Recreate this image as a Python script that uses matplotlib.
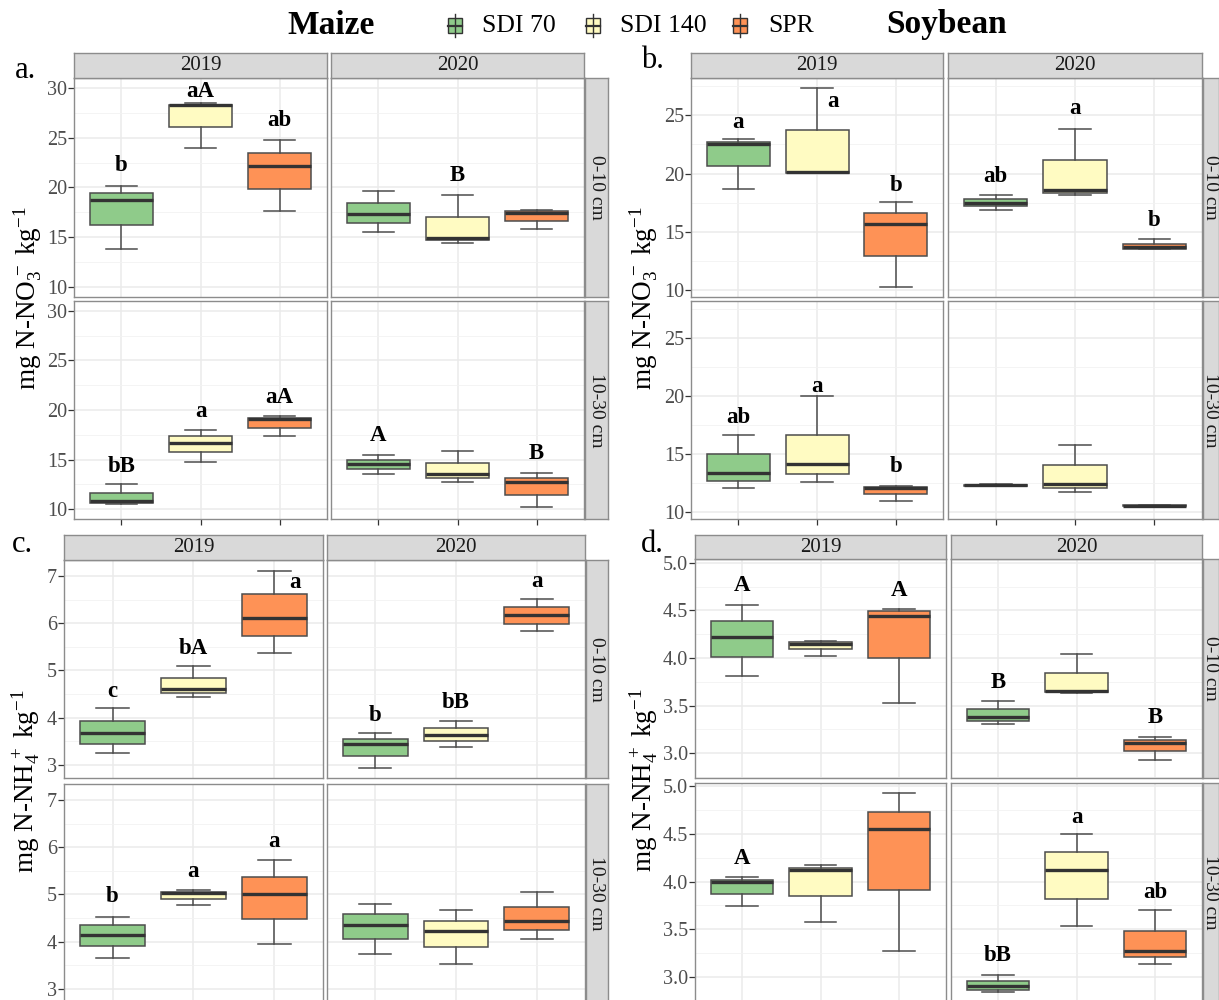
import numpy as np
import matplotlib
matplotlib.use('Agg')
import matplotlib.pyplot as plt
from matplotlib.patches import Rectangle
from matplotlib.lines import Line2D

plt.rcParams['font.family'] = ['Liberation Serif', 'DejaVu Serif']
plt.rcParams['mathtext.fontset'] = 'custom'
plt.rcParams['mathtext.rm'] = 'Liberation Serif'
plt.rcParams['mathtext.it'] = 'Liberation Serif:italic'
plt.rcParams['mathtext.bf'] = 'Liberation Serif:bold'

W, H = 1219, 1000

treatments = ['SDI 70', 'SDI 140', 'SPR']
colors = ['#8FCB8A', '#FFFBC2', '#FE9256']
years = ['2019', '2020']
depths = ['0-10 cm', '10-30 cm']

# order of the 12 boxes: 0-10 cm 2019 (SDI70, SDI140, SPR), 0-10 cm 2020, 10-30 cm 2019, 10-30 cm 2020
# a. maize nitrate
a_lo = [13.85, 23.97, 17.6, 15.53, 14.39, 15.83, 10.47, 14.8, 17.4, 13.57, 12.77, 10.17]
a_q1 = [16.26, 26.1, 19.85, 16.43, 14.7, 16.63, 10.63, 15.73, 18.23, 14.03, 13.1, 11.47]
a_med = [18.7, 28.25, 22.13, 17.34, 14.96, 17.44, 10.8, 16.67, 19.07, 14.53, 13.5, 12.73]
a_q3 = [19.45, 28.3, 23.47, 18.48, 17.07, 17.6, 11.67, 17.33, 19.23, 14.93, 14.63, 13.13]
a_hi = [20.2, 28.46, 24.8, 19.6, 19.2, 17.77, 12.57, 17.97, 19.4, 15.43, 15.83, 13.63]
a_lab = ['b', 'aA', 'ab', '', 'B', '', 'bB', 'a', 'aA', 'A', '', 'B']
a_laby = [22.2, 29.6, 26.75, 0, 21.2, 0, 14.33, 19.83, 21.27, 17.4, 0, 15.57]

# b. soybean nitrate
b_lo = [18.69, 20.03, 10.29, 16.83, 18.14, 13.54, 12.06, 12.57, 10.97, 12.23, 11.71, 10.5]
b_q1 = [20.63, 20.06, 12.94, 17.17, 18.37, 13.54, 12.71, 13.31, 11.54, 12.26, 12.06, 10.52]
b_med = [22.51, 20.14, 15.63, 17.51, 18.57, 13.71, 13.4, 14.11, 12.06, 12.29, 12.43, 10.55]
b_q3 = [22.74, 23.71, 16.6, 17.77, 21.14, 13.94, 15.0, 16.66, 12.17, 12.34, 14.09, 10.57]
b_hi = [22.97, 27.31, 17.54, 18.14, 23.83, 14.34, 16.63, 20.03, 12.26, 12.4, 15.8, 10.6]
b_lab = ['a', 'a', 'b', 'ab', 'a', 'b', 'ab', 'a', 'b', '', '', '']
b_laby = [24.37, 26.14, 18.94, 19.71, 25.57, 16.0, 18.14, 20.8, 13.91, 0, 0, 0]

# c. maize ammonium
c_lo = [3.25, 4.44, 5.36, 2.94, 3.37, 5.83, 3.66, 4.78, 3.94, 3.74, 3.53, 4.05]
c_q1 = [3.45, 4.53, 5.73, 3.19, 3.5, 5.99, 3.91, 4.9, 4.48, 4.05, 3.88, 4.24]
c_med = [3.67, 4.61, 6.11, 3.44, 3.63, 6.17, 4.15, 5.02, 5.01, 4.36, 4.22, 4.44]
c_q3 = [3.92, 4.84, 6.61, 3.55, 3.78, 6.35, 4.35, 5.06, 5.36, 4.58, 4.44, 4.74]
c_hi = [4.2, 5.09, 7.11, 3.68, 3.93, 6.52, 4.53, 5.09, 5.72, 4.8, 4.66, 5.05]
c_lab = ['c', 'bA', 'a', 'b', 'bB', 'a', 'b', 'a', 'a', '', '', '']
c_laby = [4.55, 5.47, 6.87, 4.05, 4.32, 6.89, 4.95, 5.48, 6.12, 0, 0, 0]

# d. soybean ammonium
d_lo = [3.81, 4.02, 3.53, 3.31, 3.63, 2.93, 3.74, 3.58, 3.27, 2.84, 3.53, 3.14]
d_q1 = [4.01, 4.09, 4.0, 3.34, 3.64, 3.02, 3.87, 3.85, 3.91, 2.87, 3.82, 3.21]
d_med = [4.22, 4.15, 4.44, 3.38, 3.65, 3.11, 3.99, 4.12, 4.55, 2.91, 4.12, 3.27]
d_q3 = [4.39, 4.17, 4.49, 3.46, 3.84, 3.14, 4.02, 4.14, 4.73, 2.96, 4.31, 3.48]
d_hi = [4.56, 4.18, 4.52, 3.55, 4.04, 3.17, 4.05, 4.17, 4.93, 3.02, 4.5, 3.7]
d_lab = ['A', '', 'A', 'B', '', 'B', 'A', '', '', 'bB', 'a', 'ab']
d_laby = [4.76, 0, 4.71, 3.74, 0, 3.38, 4.24, 0, 0, 3.23, 4.67, 3.89]

a_ticks = [10, 15, 20, 25, 30]
b_ticks = [10, 15, 20, 25]
c_ticks = [3, 4, 5, 6, 7]
d_ticks = [3.0, 3.5, 4.0, 4.5, 5.0]

no3_label = r'mg N-NO$_3^{\,-}$ kg$^{-1}$'
nh4_label = r'mg N-NH$_4^{\,+}$ kg$^{-1}$'

# letter x nudges (panel, box index)
nudge = {('b', 1): 0.2, ('c', 2): 0.25}

fig = plt.figure(figsize=(W / 100, H / 100), dpi=100)


def px_axes(x0, y0, x1, y1):
    return fig.add_axes([x0 / W, 1 - y1 / H, (x1 - x0) / W, (y1 - y0) / H])


EDGE = '#4D4D4D'
BORDER = '#8C8C8C'


def strip(x0, y0, x1, y1, text, rot=0, size=15):
    s = px_axes(x0, y0, x1, y1)
    s.set_facecolor('#D9D9D9')
    s.set_xticks([])
    s.set_yticks([])
    for sp in s.spines.values():
        sp.set_color(BORDER)
        sp.set_linewidth(1.0)
    s.text(0.5, 0.5, text, transform=s.transAxes, ha='center', va='center',
           fontsize=size, color='#1A1A1A', rotation=rot)


def panel(name, lo, q1, med, q3, hi, lab, laby, xs, ys, strip_y, rstrip_x, ylims,
          ticks, ticklabels, tag, tag_xy, ylabel, ylabel_x):
    for r in range(2):
        for c in range(2):
            ax = px_axes(xs[c][0], ys[r][0], xs[c][1], ys[r][1])
            idx = [r * 6 + c * 3 + t for t in range(3)]
            stats = [dict(whislo=lo[i], q1=q1[i], med=med[i], q3=q3[i], whishi=hi[i]) for i in idx]
            bp = ax.bxp(stats, positions=[1, 2, 3], widths=0.8, patch_artist=True,
                        showfliers=False, capwidths=0.4, manage_ticks=False,
                        boxprops=dict(edgecolor=EDGE, linewidth=1.1),
                        medianprops=dict(color='#333333', linewidth=2.4, solid_capstyle='butt'),
                        whiskerprops=dict(color=EDGE, linewidth=1.1),
                        capprops=dict(color=EDGE, linewidth=1.1))
            for patch, col in zip(bp['boxes'], colors):
                patch.set_facecolor(col)
            for t, i in enumerate(idx):
                if lab[i]:
                    ax.text(t + 1 + nudge.get((name, i), 0), laby[i], lab[i], ha='center', va='center',
                            fontsize=16.5, fontweight='bold', color='black')
            ax.set_xlim(0.4, 3.6)
            ax.set_xticks([1, 2, 3])
            ax.set_xticklabels([])
            ax.set_yticks(ticks)
            step = ticks[1] - ticks[0]
            minor = [ticks[0] - step / 2] + [t + step / 2 for t in ticks]
            ax.set_yticks(minor, minor=True)
            ax.set_ylim(*ylims[r])
            if c == 0:
                ax.set_yticklabels(ticklabels)
                ax.tick_params(axis='y', which='major', length=4, width=0.9, color='#333333',
                               labelsize=14.5, labelcolor='#4D4D4D', pad=1)
            else:
                ax.set_yticklabels([])
                ax.tick_params(axis='y', which='major', length=0)
            ax.tick_params(axis='y', which='minor', length=0)
            if r == 1:
                ax.tick_params(axis='x', length=4, width=0.9, color='#333333')
            else:
                ax.tick_params(axis='x', length=0)
            ax.grid(True, which='major', color='#EBEBEB', linewidth=1.1)
            ax.grid(True, which='minor', axis='y', color='#F2F2F2', linewidth=0.6)
            ax.set_axisbelow(True)
            for sp in ax.spines.values():
                sp.set_color(BORDER)
                sp.set_linewidth(1.0)
    for r in range(2):
        strip(rstrip_x[0], ys[r][0], rstrip_x[1], ys[r][1], depths[r], rot=-90, size=14)
    for c in range(2):
        strip(xs[c][0], strip_y[0], xs[c][1], strip_y[1], years[c])
    fig.text(tag_xy[0] / W, 1 - tag_xy[1] / H, tag, ha='center', va='center', fontsize=22)
    yc = (ys[0][0] + ys[1][1]) / 2
    fig.text(ylabel_x / W, 1 - yc / H, ylabel, ha='center', va='center', rotation=90, fontsize=19.5)


panel('a', a_lo, a_q1, a_med, a_q3, a_hi, a_lab, a_laby,
      [(74, 327), (331, 584)], [(78, 297), (301, 519)], (53, 78), (585, 608),
      [(9.0, 31.0), (9.0, 31.0)], a_ticks, [str(t) for t in a_ticks],
      'a.', (26, 70), no3_label, 27)
panel('b', b_lo, b_q1, b_med, b_q3, b_hi, b_lab, b_laby,
      [(691, 943), (948, 1202)], [(78, 297), (301, 519)], (53, 78), (1203, 1219),
      [(9.4, 28.2), (9.4, 28.2)], b_ticks, [str(t) for t in b_ticks],
      'b.', (652, 61), no3_label, 644)
panel('c', c_lo, c_q1, c_med, c_q3, c_hi, c_lab, c_laby,
      [(64, 323), (327, 585)], [(560, 778), (784, 1002)], (535, 560), (586, 608),
      [(2.72, 7.34), (2.72, 7.34)], c_ticks, [str(t) for t in c_ticks],
      'c.', (22, 545), nh4_label, 25)
panel('d', d_lo, d_q1, d_med, d_q3, d_hi, d_lab, d_laby,
      [(695, 946), (951, 1202)], [(559, 778), (783, 1002)], (535, 559), (1203, 1219),
      [(2.74, 5.04), (2.74, 5.03)], d_ticks, ['%.1f' % t for t in d_ticks],
      'd.', (652, 545), nh4_label, 643)

# header: crop titles and legend
fig.text(331 / W, 1 - 25 / H, 'Maize', ha='center', va='center', fontsize=24, fontweight='bold')
fig.text(947 / W, 1 - 25 / H, 'Soybean', ha='center', va='center', fontsize=24, fontweight='bold')
key_x = [455, 593, 740]
text_x = [482, 620, 768]
for kx, tx, col, name in zip(key_x, text_x, colors, treatments):
    fig.add_artist(Line2D([kx / W, kx / W], [1 - 14 / H, 1 - 37 / H], color='#333333', lw=1.0))
    fig.add_artist(Rectangle(((kx - 7) / W, 1 - 33 / H), 14 / W, 15 / H, facecolor=col,
                             edgecolor='#333333', lw=1.0))
    fig.add_artist(Line2D([(kx - 7) / W, (kx + 7) / W], [1 - 25.5 / H, 1 - 25.5 / H], color='#333333', lw=1.6))
    fig.text(tx / W, 1 - 26 / H, name, ha='left', va='center', fontsize=18.5)

fig.savefig('out.png', dpi=100)
